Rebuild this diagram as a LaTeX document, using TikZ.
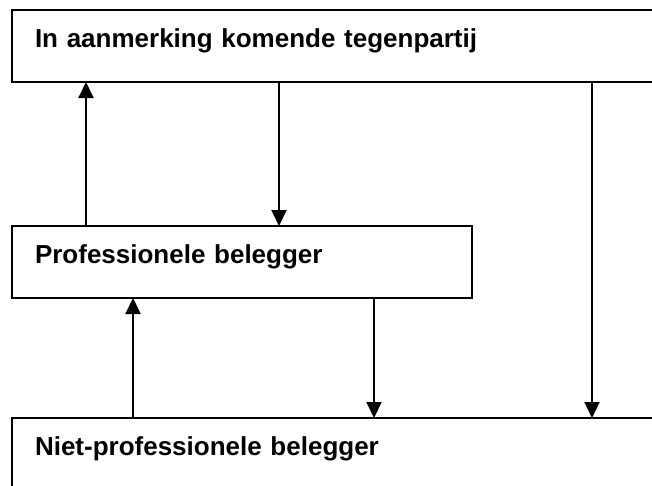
\documentclass[tikz,border=0pt]{standalone}
\usepackage{fontspec}
\setmainfont{Liberation Sans}
\usetikzlibrary{arrows.meta}

\begin{document}
\begin{tikzpicture}[x=1pt, y=-1pt, line width=2pt,
    box/.style={draw, anchor=north west, inner xsep=23pt, inner ysep=0pt, outer sep=0pt,
      text height=37pt, align=left, font=\fontsize{26}{30}\selectfont\bfseries},
    pijl/.style={-{Triangle[width=15pt,length=16pt]}}]
    \clip (0,0) rectangle (652,485);
    \node[box, text width=642pt, text depth=35pt] (partij) at (12,10) {In aanmerking komende tegenpartij};
    \node[box, text width=414pt, text depth=35pt] (prof) at (12,226) {Professionele belegger};
    \node[box, text width=642pt, text depth=70pt] (niet) at (12,418) {Niet-professionele belegger};
    \draw[pijl] (prof.north -| 86,0) -- (partij.south -| 86,0);
    \draw[pijl] (partij.south -| 279,0) -- (prof.north -| 279,0);
    \draw[pijl] (partij.south -| 592,0) -- (niet.north -| 592,0);
    \draw[pijl] (niet.north -| 133,0) -- (prof.south -| 133,0);
    \draw[pijl] (prof.south -| 374,0) -- (niet.north -| 374,0);
\end{tikzpicture}
\end{document}
